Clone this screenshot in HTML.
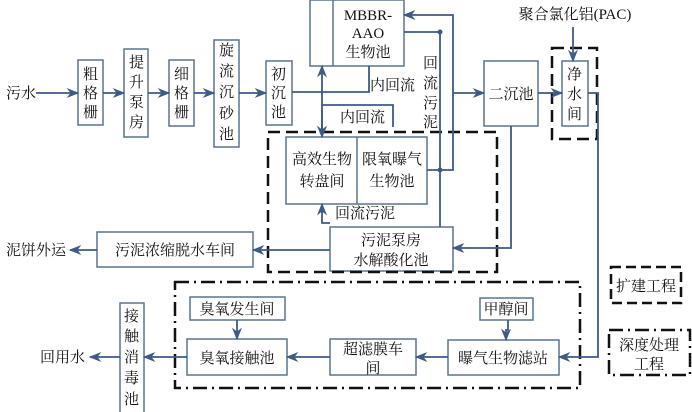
<!DOCTYPE html>
<html><head><meta charset="utf-8"><style>
html,body{margin:0;padding:0;background:#fff;}
svg{display:block;font-family:"Liberation Serif","Noto Serif CJK SC",serif;}
text{font-size:15px;fill:#111;}
</style></head><body>
<svg width="692" height="412" viewBox="0 0 692 412" xmlns="http://www.w3.org/2000/svg">
<defs>
<marker id="a" viewBox="0 0 10 10" refX="9" refY="5" markerWidth="7" markerHeight="7" orient="auto"><path d="M0,1 L10,5 L0,9 L3,5 z" fill="#3e5a86"/></marker>
</defs>
<g fill="#fff" stroke="#5a7590" stroke-width="1.5">
<rect x="78" y="60" width="25" height="65"/>
<rect x="124" y="49" width="24" height="88"/>
<rect x="169" y="60" width="25" height="66"/>
<rect x="214" y="40" width="25" height="107"/>
<rect x="266" y="61" width="26" height="64"/>
<rect x="310" y="0" width="94" height="66"/>
<line x1="333" y1="0" x2="333" y2="66"/>
<rect x="286" y="137" width="141" height="67"/>
<line x1="357" y1="137" x2="357" y2="204"/>
<rect x="330" y="227" width="123" height="44"/>
<rect x="484" y="61" width="54" height="65"/>
<rect x="562" y="61" width="26" height="65"/>
<rect x="97" y="232" width="156" height="35"/>
<rect x="480" y="298" width="53" height="22"/>
<rect x="448" y="340" width="111" height="35"/>
<rect x="330" y="339" width="86" height="36"/>
<rect x="187" y="339" width="100" height="36"/>
<rect x="190" y="297" width="95" height="23"/>
<rect x="120" y="303" width="24" height="112"/>
</g>
<g fill="none" stroke="#111" stroke-width="2.5">
<rect x="268" y="132" width="229" height="140" stroke-dasharray="12,6"/>
<rect x="552" y="48" width="45" height="91" stroke-dasharray="12,6"/>
<rect x="611" y="267" width="70" height="36" stroke-dasharray="10,5"/>
<rect x="175" y="282" width="405" height="106" stroke-dasharray="14,5,2,5"/>
<rect x="609" y="330" width="81" height="45" stroke-dasharray="14,5,2,5"/>
</g>
<g fill="none" stroke="#3e5a86" stroke-width="1.8">
<line x1="36" y1="93" x2="78" y2="93" marker-end="url(#a)"/>
<line x1="103" y1="93" x2="124" y2="93" marker-end="url(#a)"/>
<line x1="148" y1="93" x2="169" y2="93" marker-end="url(#a)"/>
<line x1="194" y1="93" x2="214" y2="93" marker-end="url(#a)"/>
<line x1="239" y1="93" x2="266" y2="93" marker-end="url(#a)"/>
<polyline points="292,92 369,92 369,66"/>
<line x1="322" y1="132" x2="322" y2="66" marker-end="url(#a)"/>
<line x1="322" y1="110" x2="322" y2="137" marker-end="url(#a)"/>
<polyline points="322,105 393,105 393,127"/>
<polyline points="427,170 453,170 453,15 404,15" marker-end="url(#a)"/>
<polyline points="404,32 440,32 440,227"/>
<line x1="453" y1="93" x2="484" y2="93" marker-end="url(#a)"/>
<polyline points="330,223 322,223 322,204" marker-end="url(#a)"/>
<line x1="538" y1="93" x2="562" y2="93" marker-end="url(#a)"/>
<line x1="573" y1="27" x2="573" y2="61" marker-end="url(#a)"/>
<polyline points="588,93 598,93 598,357 559,357" marker-end="url(#a)"/>
<polyline points="511,126 511,248 453,248" marker-end="url(#a)"/>
<line x1="330" y1="250" x2="253" y2="250" marker-end="url(#a)"/>
<line x1="97" y1="250" x2="70" y2="250" marker-end="url(#a)"/>
<polyline points="508,320 508,330 506,330 506,340" marker-end="url(#a)"/>
<line x1="448" y1="357" x2="416" y2="357" marker-end="url(#a)"/>
<line x1="330" y1="357" x2="287" y2="357" marker-end="url(#a)"/>
<line x1="237" y1="320" x2="237" y2="339" marker-end="url(#a)"/>
<line x1="187" y1="357" x2="144" y2="357" marker-end="url(#a)"/>
<line x1="120" y1="357" x2="90" y2="357" marker-end="url(#a)"/>
</g>
<g fill="#3e5a86"><circle cx="440" cy="32" r="2.5"/><circle cx="440" cy="170" r="2.5"/><circle cx="322" cy="132" r="2.5"/></g>
<text x="6" y="98">污水</text>
<text x="83" y="79">粗</text><text x="83" y="98">格</text><text x="83" y="117">栅</text>
<text x="129" y="67">提</text><text x="129" y="87">升</text><text x="129" y="107">泵</text><text x="129" y="127">房</text>
<text x="174" y="79">细</text><text x="174" y="98">格</text><text x="174" y="117">栅</text>
<text x="219" y="55">旋</text><text x="219" y="76">流</text><text x="219" y="97">沉</text><text x="219" y="118">砂</text><text x="219" y="139">池</text>
<text x="271" y="79">初</text><text x="271" y="98">沉</text><text x="271" y="117">池</text>
<text x="368" y="20" text-anchor="middle">MBBR-</text>
<text x="368" y="38" text-anchor="middle">AAO</text>
<text x="368" y="57" text-anchor="middle">生物池</text>
<text x="370" y="90">内回流</text>
<text x="340" y="122">内回流</text>
<text x="423" y="68">回</text><text x="423" y="88">流</text><text x="423" y="108">污</text><text x="423" y="127">泥</text>
<text x="322" y="164" text-anchor="middle">高效生物</text>
<text x="322" y="186" text-anchor="middle">转盘间</text>
<text x="392" y="164" text-anchor="middle">限氧曝气</text>
<text x="392" y="186" text-anchor="middle">生物池</text>
<text x="335" y="218">回流污泥</text>
<text x="391" y="245" text-anchor="middle">污泥泵房</text>
<text x="391" y="265" text-anchor="middle">水解酸化池</text>
<text x="511" y="99" text-anchor="middle">二沉池</text>
<text x="567" y="79">净</text><text x="567" y="99">水</text><text x="567" y="119">间</text>
<text x="575" y="19" text-anchor="middle">聚合氯化铝(PAC)</text>
<text x="175" y="255" text-anchor="middle">污泥浓缩脱水车间</text>
<text x="6" y="255">泥饼外运</text>
<text x="646" y="291" text-anchor="middle">扩建工程</text>
<text x="649" y="350" text-anchor="middle">深度处理</text>
<text x="649" y="369" text-anchor="middle">工程</text>
<text x="506" y="314" text-anchor="middle">甲醇间</text>
<text x="503" y="363" text-anchor="middle">曝气生物滤站</text>
<text x="373" y="354" text-anchor="middle">超滤膜车</text>
<text x="373" y="373" text-anchor="middle">间</text>
<text x="237" y="363" text-anchor="middle">臭氧接触池</text>
<text x="237" y="314" text-anchor="middle">臭氧发生间</text>
<text x="124" y="321">接</text><text x="124" y="341">触</text><text x="124" y="362">消</text><text x="124" y="383">毒</text><text x="124" y="404">池</text>
<text x="40" y="362">回用水</text>
</svg>
</body></html>
